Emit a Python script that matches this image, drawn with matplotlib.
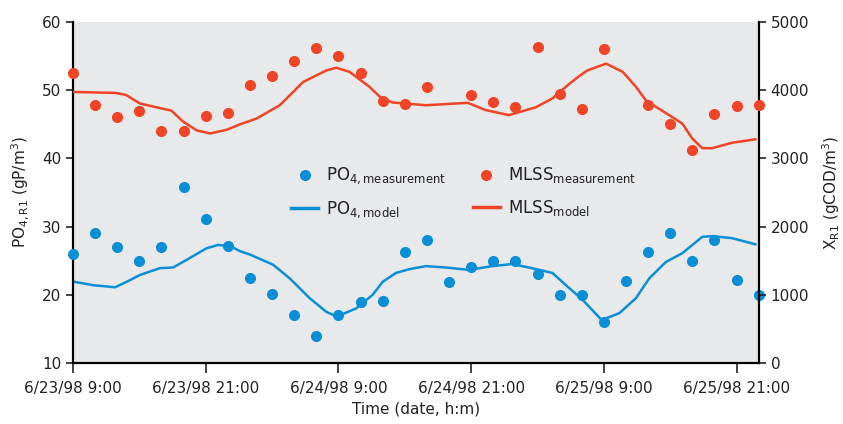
import matplotlib
matplotlib.use("Agg")
import matplotlib.pyplot as plt
from matplotlib.lines import Line2D

plt.rcParams["font.family"] = "DejaVu Sans"

# hours after 6/23/98 9:00
po4_meas_h = list(range(0, 63, 2))
po4_meas = [25.95, 29.1, 27.06, 25.0, 26.97, 35.8, 31.1, 27.15, 22.4, 20.1,
            17.1, 13.9, 17.0, 18.9, 19.15, 26.2, 28.1, 21.93, 24.0, 25.0,
            25.0, 23.05, 20.0, 20.0, 16.0, 22.04, 26.2, 29.0, 25.0, 28.0,
            22.2, 19.9]

mlss_meas_h = [0, 2, 4, 6, 8, 10, 12, 14, 16, 18, 20, 22, 24, 26, 28, 30, 32,
               36, 38, 40, 42, 44, 46, 48, 52, 54, 56, 58, 60, 62]
mlss_meas = [4250, 3780, 3600, 3700, 3400, 3400, 3620, 3660, 4070, 4215,
             4425, 4620, 4500, 4260, 3840, 3795, 4050, 3927, 3830, 3747,
             4640, 3940, 3720, 4605, 3790, 3498, 3120, 3650, 3775, 3785]

po4_model_h = [0, 1.85, 3.8, 4.85, 6.05, 7.85, 9.05, 10.25, 12.05, 13.1, 14.2,
               15.1, 16.0, 18.1, 19.6, 21.4, 22.9, 23.85, 25.6, 27.1, 28.0,
               29.2, 30.4, 31.9, 33.7, 35.8, 37.9, 39.7, 41.5, 43.35, 44.85,
               46.05, 47.8, 49.4, 50.9, 52.1, 53.6, 55.1, 56.9, 57.8, 59.6, 61.7]
po4_model = [21.93, 21.4, 21.1, 21.9, 22.9, 23.9, 24.0, 25.1, 26.8, 27.3,
             27.15, 26.4, 25.9, 24.4, 22.4, 19.5, 17.5, 16.8, 18.0, 20.0, 21.9,
             23.2, 23.75, 24.2, 24.0, 23.65, 24.2, 24.5, 23.9, 23.2, 21.0,
             19.3, 16.3, 17.3, 19.5, 22.4, 24.8, 26.1, 28.5, 28.6, 28.3, 27.4]

mlss_model_h = [0, 3.9, 4.8, 6.05, 8.9, 9.95, 11.2, 12.4, 13.9, 15.1, 16.6,
                18.7, 20.8, 22.9, 23.8, 25.0, 26.8, 27.9, 28.9, 30.4, 31.9,
                35.7, 37.3, 39.4, 41.85, 43.35, 44.85, 45.75, 46.5, 48.2,
                49.7, 50.9, 51.8, 53.9, 55.1, 56.0, 56.9, 57.8, 59.6, 61.7]
mlss_model = [3975, 3960, 3930, 3805, 3700, 3540, 3410, 3366, 3420, 3500,
              3585, 3780, 4120, 4290, 4330, 4270, 4050, 3880, 3820, 3800,
              3780, 3815, 3710, 3635, 3750, 3880, 4090, 4205, 4290, 4390,
              4270, 4050, 3850, 3635, 3510, 3290, 3150, 3150, 3230, 3280]

tick_h = [0, 12, 24, 36, 48, 60]
tick_labels = ["6/23/98 9:00", "6/23/98 21:00", "6/24/98 9:00",
               "6/24/98 21:00", "6/25/98 9:00", "6/25/98 21:00"]

BLUE = "#0a8fd6"
RED = "#ef4426"

fig = plt.figure(figsize=(8.43, 4.24), dpi=100)
ax = fig.add_axes([0.0866, 0.144, 0.8134, 0.804])
ax.set_facecolor("#e8e9eb")
ax2 = ax.twinx()

ax.plot(po4_model_h, po4_model, color=BLUE, lw=1.8, zorder=2)
ax.plot(po4_meas_h, po4_meas, "o", color=BLUE, ms=8, mec="none", zorder=3,
        clip_on=False)
ax2.plot(mlss_model_h, mlss_model, color=RED, lw=1.8, zorder=2)
ax2.plot(mlss_meas_h, mlss_meas, "o", color=RED, ms=8, mec="none", zorder=3,
         clip_on=False)

ax.set_xlim(0, 62)
ax.set_ylim(10, 60)
ax2.set_ylim(0, 5000)
ax.set_xticks(tick_h)
ax.set_xticklabels(tick_labels)
ax.set_yticks([10, 20, 30, 40, 50, 60])
ax2.set_yticks([0, 1000, 2000, 3000, 4000, 5000])

for a in (ax, ax2):
    a.spines["top"].set_visible(False)
    for s in ("left", "right", "bottom"):
        a.spines[s].set_linewidth(1.6)
    a.tick_params(labelsize=11, width=1.2, length=5, colors="#222222")
ax.tick_params(axis="x", length=7, pad=6)
ax.spines["right"].set_visible(False)
ax2.spines["left"].set_visible(False)
ax2.spines["bottom"].set_visible(False)

ax.set_xlabel("Time (date, h:m)", fontsize=11, color="#222222", labelpad=4)
ax.set_ylabel(r"PO$_{\mathregular{4,R1}}$ (gP/m$^{\mathregular{3}}$)",
              fontsize=11, color="#222222", labelpad=8)
ax2.set_ylabel(r"X$_{\mathregular{R1}}$ (gCOD/m$^{\mathregular{3}}$)",
               fontsize=11, color="#222222", labelpad=8)

handles = [
    Line2D([], [], ls="none", marker="o", ms=8, color=BLUE, mec="none"),
    Line2D([], [], color=BLUE, lw=2.5),
    Line2D([], [], ls="none", marker="o", ms=8, color=RED, mec="none"),
    Line2D([], [], color=RED, lw=2.5),
]
labels = [r"PO$_{\mathregular{4,measurement}}$", r"PO$_{\mathregular{4,model}}$",
          r"MLSS$_{\mathregular{measurement}}$", r"MLSS$_{\mathregular{model}}$"]
ax.legend(handles, labels, ncol=2, frameon=False, fontsize=12,
          loc="center", bbox_to_anchor=(0.57, 0.50), columnspacing=1.6,
          handlelength=1.6, handletextpad=0.5, labelspacing=0.75,
          labelcolor="#222222")

fig.savefig("out.png", dpi=100)
